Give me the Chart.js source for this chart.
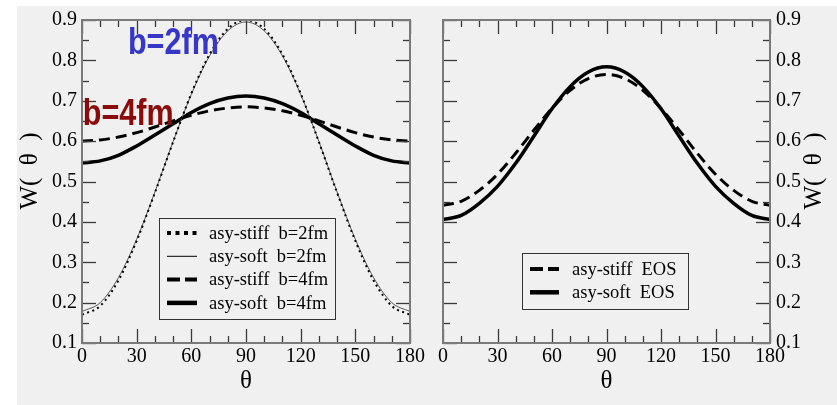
<!DOCTYPE html>
<html>
<head>
<meta charset="utf-8">
<script src="https://cdn.jsdelivr.net/npm/chart.js@4.4.1/dist/chart.umd.min.js"></script>
<style>
  html, body { margin: 0; padding: 0; background: #ffffff; width: 837px; height: 405px; overflow: hidden; }
  #panel { position: absolute; left: 17px; top: 6px; width: 820px; height: 399px; background: #f0f0f0; }
  #left { position: absolute; left: 0; top: 0; }
  #right { position: absolute; left: 430px; top: 0; }
</style>
</head>
<body>
<div id="panel"></div>
<canvas id="left" width="430" height="405"></canvas>
<canvas id="right" width="407" height="405"></canvas>
<script>
// Emission angle (degrees)
const theta = [0, 10, 20, 30, 40, 50, 60, 70, 80, 90, 100, 110, 120, 130, 140, 150, 160, 170, 180];

// Left panel: W(theta) for two impact parameters
const stiffB2 = [0.170, 0.192, 0.255, 0.353, 0.472, 0.598, 0.718, 0.815, 0.878, 0.900, 0.878, 0.815, 0.718, 0.598, 0.472, 0.353, 0.255, 0.192, 0.170];
const softB2  = [0.178, 0.200, 0.262, 0.357, 0.474, 0.599, 0.716, 0.811, 0.873, 0.895, 0.873, 0.811, 0.716, 0.599, 0.474, 0.357, 0.262, 0.200, 0.178];
const stiffB4 = [0.600, 0.603, 0.610, 0.621, 0.635, 0.650, 0.664, 0.675, 0.682, 0.685, 0.682, 0.675, 0.664, 0.650, 0.635, 0.621, 0.610, 0.603, 0.600];
const softB4  = [0.546, 0.551, 0.565, 0.588, 0.615, 0.643, 0.671, 0.693, 0.707, 0.712, 0.707, 0.693, 0.671, 0.643, 0.615, 0.588, 0.565, 0.551, 0.546];

// Right panel: W(theta) for the two symmetry-energy choices
const stiffEos = [0.441, 0.451, 0.478, 0.518, 0.570, 0.627, 0.681, 0.726, 0.755, 0.765, 0.755, 0.726, 0.681, 0.627, 0.570, 0.518, 0.478, 0.451, 0.441];
const softEos  = [0.406, 0.416, 0.446, 0.488, 0.545, 0.612, 0.680, 0.735, 0.771, 0.784, 0.771, 0.735, 0.680, 0.612, 0.545, 0.488, 0.446, 0.416, 0.406];

// Axis tick values
const xTicks = [0, 30, 60, 90, 120, 150, 180];
const yTicks = [0.1, 0.2, 0.3, 0.4, 0.5, 0.6, 0.7, 0.8, 0.9];

const SERIF = "'Liberation Serif', 'Times New Roman', serif";
const SANS = "'Liberation Sans', Arial, sans-serif";

function pts(values) {
  return theta.map((t, i) => ({ x: t, y: values[i] }));
}

// Inward tick marks, plot frame, in-plot legend, y title and labels
const framePlugin = {
  id: 'frame',
  afterDatasetsDraw(chart, args, opts) {
    const { ctx, chartArea: a, scales: { x, y } } = chart;
    ctx.save();
    const seg = (x0, y0, x1, y1) => { ctx.beginPath(); ctx.moveTo(x0, y0); ctx.lineTo(x1, y1); ctx.stroke(); };

    // ticks: majors on labelled values, minors halfway / every 10 degrees
    ctx.strokeStyle = '#3a3a3a';
    ctx.lineWidth = 1.3;
    for (let t = x.min; t <= x.max; t += 10) {
      const px = Math.round(x.getPixelForValue(t)) + 0.5;
      const len = xTicks.includes(t) ? 14 : 7;
      seg(px, a.bottom, px, a.bottom - len);
      seg(px, a.top, px, a.top + len);
    }
    for (let i = 0; i <= 16; i++) {
      const v = y.min + i * 0.05;
      const py = Math.round(y.getPixelForValue(v)) + 0.5;
      const len = i % 2 === 0 ? 14 : 7;
      seg(a.left, py, a.left + len, py);
      seg(a.right, py, a.right - len, py);
    }

    // frame
    ctx.strokeStyle = '#7a7a7a';
    ctx.lineWidth = 2;
    ctx.strokeRect(a.left, a.top, a.right - a.left, a.bottom - a.top);

    // legend box
    const L = opts.legend;
    if (L) {
      const bx = a.left + L.left, by = a.top + L.top;
      ctx.strokeStyle = '#333';
      ctx.lineWidth = 1;
      ctx.strokeRect(Math.round(bx) + 0.5, Math.round(by) + 0.5, L.width, L.height);
      ctx.font = `18.5px ${SERIF}`;
      ctx.fillStyle = '#000';
      ctx.textBaseline = 'middle';
      ctx.textAlign = 'left';
      chart.data.datasets.forEach((ds, i) => {
        const ry = by + L.rowStart + i * L.rowStep;
        ctx.strokeStyle = ds.legendColor || ds.borderColor;
        ctx.lineWidth = ds.legendWidth || ds.borderWidth;
        ctx.setLineDash(ds.legendDash || ds.borderDash || []);
        seg(bx + L.sample0, ry, bx + L.sample1, ry);
        ctx.setLineDash([]);
        ctx.fillText(ds.label, bx + L.text, ry + 1);
      });
    }

    // big coloured labels placed at data coordinates
    (opts.notes || []).forEach(n => {
      ctx.save();
      ctx.font = `bold 36px ${SANS}`;
      ctx.fillStyle = n.color;
      ctx.textBaseline = 'alphabetic';
      ctx.textAlign = 'left';
      ctx.translate(x.getPixelForValue(n.x), y.getPixelForValue(n.y));
      ctx.scale(0.85, 1);
      ctx.fillText(n.text, 0, 0);
      ctx.restore();
    });

    // vertical axis title
    if (opts.yTitle) {
      ctx.save();
      ctx.font = `25px ${SERIF}`;
      ctx.fillStyle = '#000';
      ctx.textAlign = 'center';
      ctx.textBaseline = 'middle';
      ctx.translate(opts.yTitle.x, opts.yTitle.y);
      ctx.rotate(-Math.PI / 2);
      ctx.fillText(opts.yTitle.text, 0, 0);
      ctx.restore();
    }
    ctx.restore();
  }
};

function scalesFor(yPos, yWidth, yLabelPad) {
  return {
    x: {
      type: 'linear', min: 0, max: 180,
      afterBuildTicks: s => { s.ticks = xTicks.map(v => ({ value: v })); },
      ticks: { color: '#000', font: { family: SERIF, size: 20 }, padding: 2, maxRotation: 0, autoSkip: false,
               callback: v => String(v) },
      grid: { display: false, drawTicks: false },
      border: { display: false },
      title: { display: true, text: 'θ', color: '#000', font: { family: SERIF, size: 25 }, padding: { top: 0, bottom: 9 } },
      afterFit: s => { s.height = 62; }
    },
    y: {
      type: 'linear', position: yPos, min: 0.1, max: 0.9,
      afterBuildTicks: s => { s.ticks = yTicks.map(v => ({ value: v })); },
      ticks: { color: '#000', font: { family: SERIF, size: 20 }, padding: yLabelPad, autoSkip: false,
               callback: v => Number(v).toFixed(1) },
      grid: { display: false, drawTicks: false },
      border: { display: false },
      afterFit: s => { s.width = yWidth; }
    }
  };
}

const baseOpts = {
  responsive: false,
  animation: false,
  events: [],
  elements: { point: { radius: 0 }, line: { cubicInterpolationMode: 'monotone', borderCapStyle: 'butt' } },
};

new Chart(document.getElementById('left'), {
  type: 'line',
  data: {
    datasets: [
      { label: 'asy-stiff  b=2fm', data: pts(stiffB2), borderColor: '#000', borderWidth: 2, borderDash: [2, 3.5],
        legendWidth: 4, legendDash: [4, 4.5] },
      { label: 'asy-soft  b=2fm', data: pts(softB2), borderColor: '#555', borderWidth: 1, legendColor: '#000' },
      { label: 'asy-stiff  b=4fm', data: pts(stiffB4), borderColor: '#000', borderWidth: 3, borderDash: [11, 6],
        legendWidth: 4, legendDash: [13, 5] },
      { label: 'asy-soft  b=4fm', data: pts(softB4), borderColor: '#000', borderWidth: 3.5, legendWidth: 4.5 }
    ]
  },
  options: {
    ...baseOpts,
    layout: { padding: { left: 0, right: 20, top: 20, bottom: 0 } },
    scales: scalesFor('left', 82, 5),
    plugins: {
      legend: { display: false },
      tooltip: { enabled: false },
      frame: {
        legend: { left: 77, top: 198, width: 176, height: 101, rowStart: 15, rowStep: 23.3, sample0: 8, sample1: 38, text: 50 },
        notes: [
          { text: 'b=2fm', x: 25.2, y: 0.817, color: '#3636c8' },
          { text: 'b=4fm', x: 0.4, y: 0.640, color: '#8b0a0a' }
        ],
        yTitle: { text: 'W(  θ  )', x: 30, y: 171 }
      }
    }
  },
  plugins: [framePlugin]
});

new Chart(document.getElementById('right'), {
  type: 'line',
  data: {
    datasets: [
      { label: 'asy-stiff  EOS', data: pts(stiffEos), borderColor: '#000', borderWidth: 3, borderDash: [11, 6],
        legendWidth: 4, legendDash: [13, 5] },
      { label: 'asy-soft  EOS', data: pts(softEos), borderColor: '#000', borderWidth: 3.5, legendWidth: 4.5 }
    ]
  },
  options: {
    ...baseOpts,
    layout: { padding: { left: 13, right: 0, top: 20, bottom: 0 } },
    scales: scalesFor('right', 67, 6),
    plugins: {
      legend: { display: false },
      tooltip: { enabled: false },
      frame: {
        legend: { left: 79, top: 233, width: 166, height: 56, rowStart: 16, rowStep: 23.3, sample0: 8, sample1: 37, text: 50 },
        yTitle: { text: 'W(  θ  )', x: 384, y: 171 }
      }
    }
  },
  plugins: [framePlugin]
});
</script>
</body>
</html>
